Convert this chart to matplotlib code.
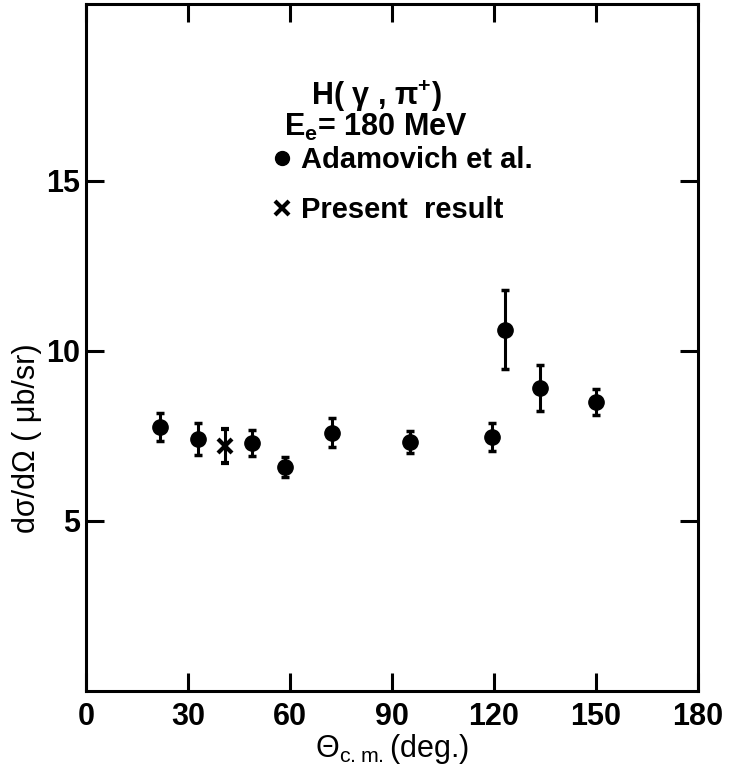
import numpy as np
import matplotlib
matplotlib.use("Agg")
import matplotlib.pyplot as plt
from matplotlib.lines import Line2D

plt.rcParams['font.family'] = ['Liberation Sans', 'DejaVu Sans']
plt.rcParams['font.weight'] = 'bold'
plt.rcParams['mathtext.default'] = 'regular'

# Adamovich et al.
theta_adam = [21.8, 32.9, 48.8, 58.5, 72.5, 95.3, 119.4, 123.2, 133.5, 150.0]
xs_adam = [7.76, 7.41, 7.29, 6.59, 7.59, 7.32, 7.47, 10.62, 8.91, 8.50]
err_adam = [0.41, 0.47, 0.39, 0.30, 0.43, 0.31, 0.42, 1.16, 0.67, 0.38]

# present result
theta_pres = [40.9]
xs_pres = [7.20]
err_pres = [0.50]

xticks = [0, 30, 60, 90, 120, 150, 180]
yticks = [5, 10, 15]

fig = plt.figure(figsize=(7.32, 7.68), dpi=100)
ax = fig.add_axes([0.1175, 0.1003, 0.836, 0.8945])

ax.errorbar(theta_adam, xs_adam, yerr=err_adam, fmt='o', color='black',
            ms=11, elinewidth=2.2, capsize=3, capthick=2.5)
ax.errorbar(theta_pres, xs_pres, yerr=err_pres, fmt='x', color='black',
            ms=10, mew=3, elinewidth=2.2, capsize=3, capthick=2.5)

ax.set_xlim(0, 180)
ax.set_ylim(0, 20.2)
ax.set_xticks(xticks)
ax.set_yticks(yticks)
ax.tick_params(direction='in', length=13, width=2.2, labelsize=22,
               top=True, right=True)
ax.tick_params(axis='x', pad=8)
ax.tick_params(axis='y', pad=4)
for s in ax.spines.values():
    s.set_linewidth(2.2)

ax.set_xlabel('Θ$_{c.m.}$(deg.)', fontsize=22, labelpad=0)
ax.set_ylabel('dσ/dΩ ( μb/sr)', fontsize=22)
ax.yaxis.set_label_coords(-0.072, 0.368)

ax.text(0.474, 0.866, 'H( γ , π$^{+}$)', transform=ax.transAxes,
        ha='center', va='center', fontsize=22)
ax.text(0.474, 0.82, 'E$_{e}$= 180 MeV', transform=ax.transAxes,
        ha='center', va='center', fontsize=22)

handles = [Line2D([], [], ls='none', marker='o', color='black', ms=10),
           Line2D([], [], ls='none', marker='x', color='black', ms=10, mew=3)]
ax.legend(handles, ['Adamovich et al.', 'Present  result'], loc='upper left',
          bbox_to_anchor=(0.28, 0.81), frameon=False, fontsize=21,
          handletextpad=0.2, handlelength=0.9, labelspacing=0.75,
          borderaxespad=0)

fig.savefig('out.png', dpi=100)
